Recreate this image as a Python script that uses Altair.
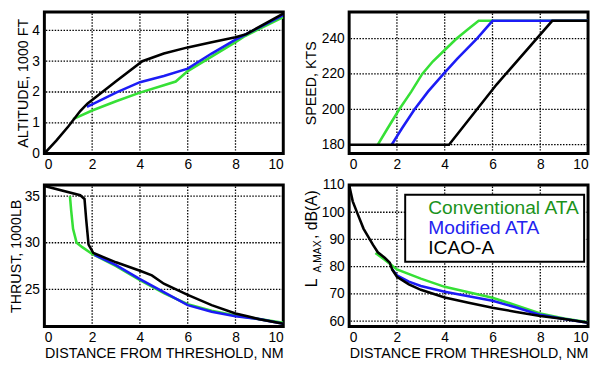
import altair as alt
import pandas as pd

FONT = "Liberation Sans"

SERIES = ["Conventional ATA", "Modified ATA", "ICAO-A"]
LINE_COLORS = ["#36e036", "#1c1cf5", "#000000"]
LEGEND_TEXT_COLORS = ["#1b931b", "#2323f0", "#000000"]

X_TICKS = [0, 2, 4, 6, 8, 10]

# ---- Altitude, 1000 ft ----
alt_conv_x = [1.2, 2, 3, 4, 5, 5.5, 6, 7, 8, 8.4, 9, 10]
alt_conv_y = [1.12, 1.4, 1.7, 1.98, 2.22, 2.34, 2.68, 3.15, 3.62, 3.82, 4.05, 4.43]
alt_mod_x = [1.78, 2, 3, 4, 5, 6, 7, 8, 8.4, 9, 10]
alt_mod_y = [1.52, 1.6, 1.98, 2.32, 2.52, 2.76, 3.25, 3.7, 3.86, 4.1, 4.5]
alt_icao_x = [0, 0.5, 1, 1.5, 1.8, 3, 4.1, 5, 6, 7, 8, 8.45, 10]
alt_icao_y = [0, 0.42, 0.88, 1.38, 1.62, 2.35, 3.0, 3.25, 3.45, 3.62, 3.78, 3.88, 4.55]
alt_ticks = [0, 1, 2, 3, 4]

# ---- Speed, kts ----
spd_conv_x = [1.2, 1.6, 2.1, 2.6, 3.06, 3.5, 4.0, 4.5, 5.0, 5.42, 10]
spd_conv_y = [180, 189, 200, 210, 220, 227, 233.5, 240, 245.5, 250, 250]
spd_mod_x = [1.78, 2.2, 2.74, 3.3, 3.95, 4.53, 5.35, 6.0, 10]
spd_mod_y = [180, 189, 200, 210, 220, 228.7, 240, 250, 250]
spd_icao_x = [0, 4.18, 6.17, 8.5, 10]
spd_icao_y = [180, 180, 214, 250, 250]
spd_ticks = [180, 200, 220, 240]

# ---- Thrust, 1000 lb ----
thr_conv_x = [1.07, 1.12, 1.2, 1.35, 1.6, 2.0, 3, 4, 5, 6, 7, 8, 9, 10]
thr_conv_y = [35.0, 33.5, 31.5, 30.0, 29.5, 28.8, 27.5, 26.0, 24.6, 23.4, 22.7, 22.2, 21.8, 21.4]
thr_mod_x = [2.1, 3, 4, 5, 6, 7, 8, 9, 10]
thr_mod_y = [28.7, 27.6, 26.1, 24.7, 23.3, 22.6, 22.1, 21.8, 21.3]
thr_icao_x = [0, 1.5, 1.68, 1.75, 1.85, 2.05, 3, 4, 4.5, 5, 6, 7, 8, 8.5, 9, 10]
thr_icao_y = [36.1, 35.1, 34.7, 32.5, 29.8, 28.9, 27.9, 27.0, 26.5, 25.6, 24.4, 23.3, 22.4, 22.1, 21.8, 21.3]
thr_ticks = [25, 30, 35]

# ---- L_A,MAX, dB(A) ----
nse_conv_x = [1.1, 1.5, 2, 3, 4, 5, 6, 7, 8, 9, 10]
nse_conv_y = [85, 82.5, 79, 75.6, 72.6, 70.6, 68.6, 65.8, 62.8, 61, 59.6]
nse_mod_x = [1.8, 2, 2.5, 3, 4, 5, 6, 7, 8, 9, 10]
nse_mod_y = [79, 76.8, 74.5, 72.9, 70.8, 69.1, 67.5, 65, 62.3, 60.8, 59.4]
nse_icao_x = [0, 0.15, 0.35, 0.6, 1.0, 1.2, 1.5, 1.7, 1.8, 2.0, 2.5, 3, 4, 5, 6, 7, 8, 9, 10]
nse_icao_y = [110, 104, 99.5, 94, 88, 85.3, 83.2, 81.5, 79, 76.3, 73.5, 71.5, 68.7, 66.8, 64.9, 63.4, 61.9, 60.8, 59.4]
nse_ticks = [60, 70, 80, 90, 100, 110]

GRID_STYLE = dict(color="#000000", strokeWidth=1.3, strokeDash=[1.5, 1.5])


def frame(pairs):
    rows = []
    for name, (xs, ys) in zip(SERIES, pairs):
        for xv, yv in zip(xs, ys):
            rows.append({"series": name, "d": xv, "v": yv})
    return pd.DataFrame(rows)


def panel(df, ydom, yticks, ytitle, tpad, xtitle, legend=None):
    ykw = dict(values=yticks, labelPadding=5, titlePadding=tpad, grid=False)
    ykw["title"] = ytitle
    xkw = dict(values=X_TICKS, labelPadding=4, titlePadding=2, grid=False)
    xkw["title"] = "DISTANCE FROM THRESHOLD, NM" if xtitle else None
    xenc = alt.X("d:Q", scale=alt.Scale(domain=[0, 10], nice=False), axis=alt.Axis(**xkw))
    yenc = alt.Y("v:Q", scale=alt.Scale(domain=ydom, nice=False, zero=False), axis=alt.Axis(**ykw))
    color_kw = dict(scale=alt.Scale(domain=SERIES, range=LINE_COLORS))
    color_kw["legend"] = legend
    vdf = pd.DataFrame({"d": X_TICKS, "v": [ydom[0]] * len(X_TICKS), "v2": [ydom[1]] * len(X_TICKS)})
    vgrid = alt.Chart(vdf).mark_rule(**GRID_STYLE).encode(x=xenc, y=yenc, y2="v2:Q")
    hgrid = alt.Chart(pd.DataFrame({"v": yticks})).mark_rule(**GRID_STYLE).encode(y=yenc)
    lines = alt.Chart(df).mark_line(strokeWidth=2.6, clip=True).encode(
        x=xenc, y=yenc,
        color=alt.Color("series:N", **color_kw),
        order=alt.Order("d:Q"),
    )
    return vgrid, hgrid, lines


def sized(*layers):
    return alt.layer(*layers).properties(width=243, height=144)


W_ALT = sized(*panel(frame([(alt_conv_x, alt_conv_y), (alt_mod_x, alt_mod_y), (alt_icao_x, alt_icao_y)]),
                     [0, 4.6], alt_ticks, "ALTITUDE, 1000 FT", 1, False))
W_SPD = sized(*panel(frame([(spd_conv_x, spd_conv_y), (spd_mod_x, spd_mod_y), (spd_icao_x, spd_icao_y)]),
                     [175, 255], spd_ticks, "SPEED, KTS", 3, False))
W_THR = sized(*panel(frame([(thr_conv_x, thr_conv_y), (thr_mod_x, thr_mod_y), (thr_icao_x, thr_icao_y)]),
                     [21, 36.2], thr_ticks, "THRUST, 1000LB", 1, True))

label_color_expr = "datum.value === '%s' ? '%s' : (datum.value === '%s' ? '%s' : '%s')" % (
    SERIES[0], LEGEND_TEXT_COLORS[0], SERIES[1], LEGEND_TEXT_COLORS[1], LEGEND_TEXT_COLORS[2])

legend = alt.Legend(
    orient="none", legendX=57, legendY=10, title=None,
    symbolOpacity=0, symbolSize=0, symbolStrokeWidth=0, labelOffset=0,
    labelFontSize=19.5, labelFont=FONT, labelLimit=400,
    labelExpr="datum.label + '\u00a0\u00a0\u00a0\u00a0\u00a0'",
    labelColor=alt.ExprRef(expr=label_color_expr),
    padding=4, rowPadding=-1.5, strokeColor="black", fillColor="white",
)
nse_layers = panel(frame([(nse_conv_x, nse_conv_y), (nse_mod_x, nse_mod_y), (nse_icao_x, nse_icao_y)]),
                   [58, 110], nse_ticks, None, 3, True, legend=legend)

# y-axis title with subscript: L_{A,MAX} , dB(A)
TTL_TEXT = ["L", "A,MAX", "\u00a0, dB(A)"]
TTL_SIZE = [16, 10.5, 16]
TTL_PX = [-33, -29, -33]
TTL_PY = [104, 89, 55]
title_layers = []
for i in range(3):
    title_layers.append(
        alt.Chart(pd.DataFrame({"t": [TTL_TEXT[i]]})).mark_text(
            angle=270, align="left", baseline="alphabetic",
            font=FONT, fontSize=TTL_SIZE[i], color="black")
        .encode(x=alt.value(TTL_PX[i]), y=alt.value(TTL_PY[i]), text="t:N")
    )
W_NSE = sized(*nse_layers, *title_layers)

chart = alt.concat(W_ALT, W_SPD, W_THR, W_NSE, columns=2, align="each",
                   spacing={"row": 3, "column": 16}).resolve_legend(color="independent").configure(
    padding={"left": -2, "top": -2, "right": 0, "bottom": 0},
    font=FONT,
).configure_view(
    stroke="black", strokeWidth=3,
).configure_legend(
    strokeWidth=2,
).configure_axis(
    ticks=False, domain=False, grid=False,
    labelFont=FONT, labelFontSize=14, labelColor="black",
    titleFont=FONT, titleFontSize=14.5, titleFontWeight="normal", titleColor="black",
)

chart.save("out.html", embed_options={"renderer": "svg", "actions": False})
